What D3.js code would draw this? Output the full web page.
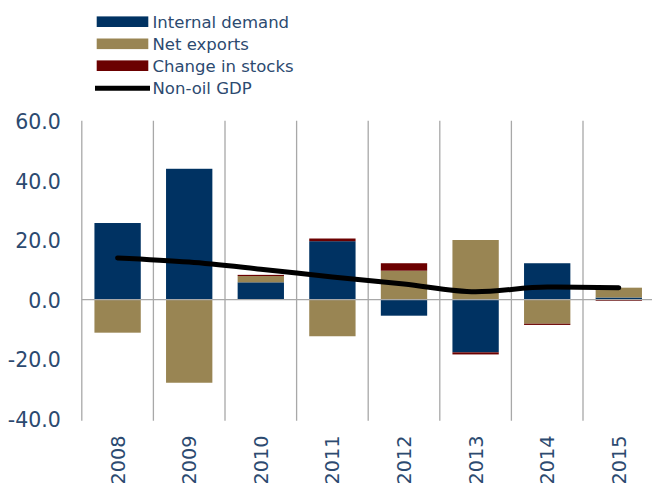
<!DOCTYPE html>
<html><head><meta charset="utf-8">
<script src="https://cdn.jsdelivr.net/npm/d3@7"></script>
<style>body{margin:0;background:#fff}svg{display:block}</style>
</head><body>
<svg id="c" width="653" height="486"></svg>
<script>
const years = ["2008","2009","2010","2011","2012","2013","2014","2015"];
const internalDemand = [25.7, 43.9, 5.8, 19.6, -5.4, -17.7, 12.2, 0.7];
const netExports = [-11.1, -27.9, 2.1, -12.3, 9.7, 20.0, -8.1, 3.3];
const changeInStocks = [0.0, 0.0, 0.4, 0.9, 2.5, -0.7, -0.4, -0.4];
const nonOilGDP = [14.0, 12.6, 10.2, 7.6, 5.2, 2.6, 4.2, 4.0];
const yTicks = [-40, -20, 0, 20, 40, 60];
const seriesNames = ["Internal demand", "Net exports", "Change in stocks"];
const lineName = "Non-oil GDP";
const colors = ["#003262", "#998553", "#6b0000"];
const textColor = "#2c4a70";
const font = "DejaVu Sans, sans-serif";

const svg = d3.select("#c");
const x0 = 81.8, x1 = 654.6;
const xCat = d3.scaleBand().domain(years).range([x0, x1]).padding(0);
const xBar = d3.scaleBand().domain(years).range([x0, x1]).paddingInner(0.353).paddingOuter(0.1765);
const y = d3.scaleLinear().domain([-40, 60]).range([418.8, 120.8]);
const fmt = d3.formatLocale({decimal: ".", thousands: ",", grouping: [3], currency: ["", ""], minus: "-"}).format(".1f");

// vertical grid lines
const bounds = years.map(d => xCat(d)).concat([x1]);
svg.append("g").selectAll("line").data(bounds).join("line")
  .attr("x1", d => d).attr("x2", d => d)
  .attr("y1", y(60)).attr("y2", y(-40) + 2)
  .attr("stroke", "#a8a8a8").attr("stroke-width", 1.3);

// stacked bars
const seriesVals = [internalDemand, netExports, changeInStocks];
const gBars = svg.append("g");
years.forEach((yr, i) => {
  let pos = 0, neg = 0;
  seriesVals.forEach((arr, s) => {
    const v = arr[i];
    if (v === 0) return;
    let a, b;
    if (v > 0) { a = pos; b = pos + v; pos = b; } else { a = neg; b = neg + v; neg = b; }
    gBars.append("rect")
      .attr("x", xBar(yr)).attr("width", xBar.bandwidth())
      .attr("y", y(Math.max(a, b))).attr("height", Math.abs(y(a) - y(b)))
      .attr("fill", colors[s]);
  });
});

// zero line
svg.append("line").attr("x1", x0).attr("x2", 652).attr("y1", y(0)).attr("y2", y(0))
  .attr("stroke", "#a8a8a8").attr("stroke-width", 1.3);

// Non-oil GDP line
const line = d3.line().x((d, i) => xCat(years[i]) + xCat.bandwidth() / 2).y(d => y(d)).curve(d3.curveMonotoneX);
svg.append("path").datum(nonOilGDP).attr("d", line)
  .attr("fill", "none").attr("stroke", "#000").attr("stroke-width", 5).attr("stroke-linecap", "round");

// y axis labels
const yAxis = d3.axisLeft(y).tickValues(yTicks).tickFormat(fmt).tickSize(0).tickPadding(21);
const gy = svg.append("g").attr("transform", `translate(${x0},0)`).call(yAxis);
gy.select(".domain").remove();
gy.selectAll("text").attr("font-family", font).attr("font-size", 20.5).attr("fill", textColor).attr("dy", "0.38em");

// x axis labels (rotated)
const gx = svg.append("g");
years.forEach(yr => {
  const cx = xCat(yr) + xCat.bandwidth() / 2;
  gx.append("text").attr("transform", `translate(${cx + 7},435.5) rotate(-90)`)
    .attr("text-anchor", "end").attr("font-family", font).attr("font-size", 19.3)
    .attr("fill", textColor).text(yr);
});

// legend
const lg = svg.append("g");
const rowY = [21.7, 43.8, 65.7, 88.3];
seriesNames.forEach((n, i) => {
  lg.append("rect").attr("x", 96.7).attr("y", rowY[i] - 5.3).attr("width", 51.6).attr("height", 10.6).attr("fill", colors[i]);
  lg.append("text").attr("x", 152.5).attr("y", rowY[i] + 6).attr("font-family", font).attr("font-size", 16.5).attr("fill", textColor).text(n);
});
lg.append("line").attr("x1", 95).attr("x2", 150).attr("y1", rowY[3]).attr("y2", rowY[3]).attr("stroke", "#000").attr("stroke-width", 5);
lg.append("text").attr("x", 152.5).attr("y", rowY[3] + 6).attr("font-family", font).attr("font-size", 16.5).attr("fill", textColor).text(lineName);
</script>
</body></html>
